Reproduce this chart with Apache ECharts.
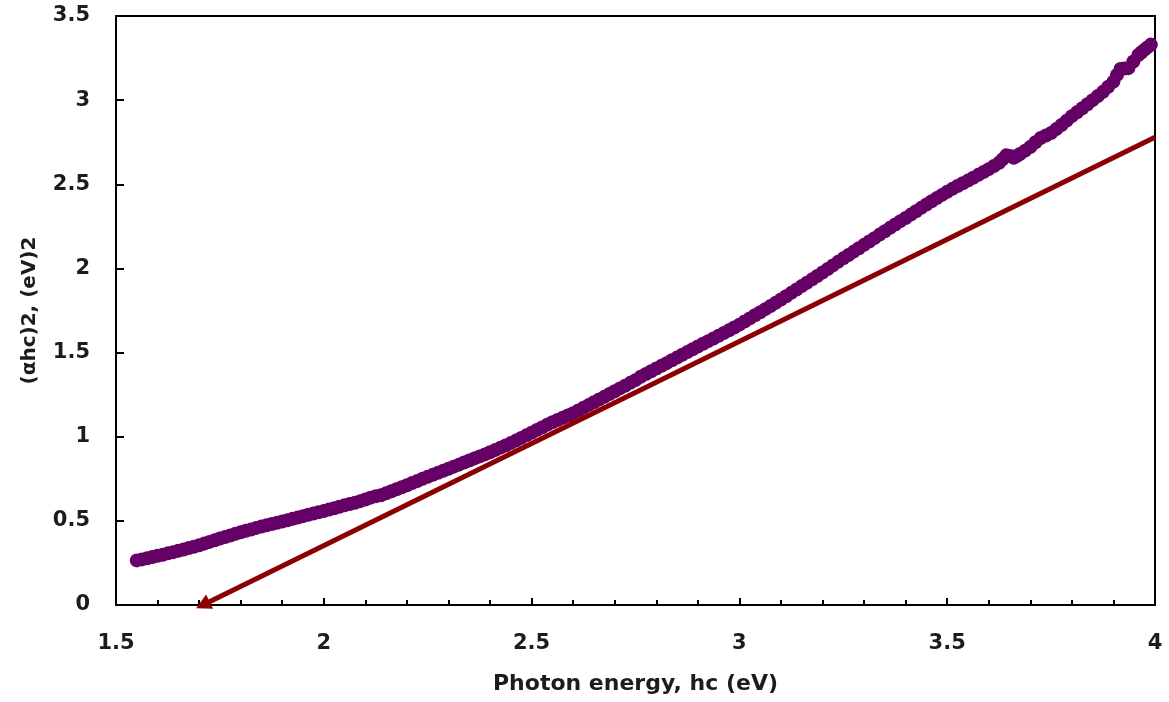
<!DOCTYPE html>
<html>
<head>
<meta charset="utf-8">
<script src="https://cdn.jsdelivr.net/npm/echarts@6/dist/echarts.min.js"></script>
<style>
html,body{margin:0;padding:0;background:#fff;}
#chart{width:1169px;height:702px;}
</style>
</head>
<body>
<div id="chart"></div>
<script>
// Photon energy (eV)
var energy = [
  1.5500,1.5625,1.5750,1.5875,1.6000,1.6125,1.6250,1.6375,1.6500,1.6625,1.6750,1.6875,1.7000,1.7125,1.7250,1.7375,
  1.7500,1.7625,1.7750,1.7875,1.8000,1.8125,1.8250,1.8375,1.8500,1.8625,1.8750,1.8875,1.9000,1.9125,1.9250,1.9375,
  1.9500,1.9625,1.9750,1.9875,2.0000,2.0125,2.0250,2.0375,2.0500,2.0625,2.0750,2.0875,2.1000,2.1125,2.1250,2.1375,
  2.1500,2.1625,2.1750,2.1875,2.2000,2.2125,2.2250,2.2375,2.2500,2.2625,2.2750,2.2875,2.3000,2.3125,2.3250,2.3375,
  2.3500,2.3625,2.3750,2.3875,2.4000,2.4125,2.4250,2.4375,2.4500,2.4625,2.4750,2.4875,2.5000,2.5125,2.5250,2.5375,
  2.5500,2.5625,2.5750,2.5875,2.6000,2.6125,2.6250,2.6375,2.6500,2.6625,2.6750,2.6875,2.7000,2.7125,2.7250,2.7375,
  2.7500,2.7625,2.7750,2.7875,2.8000,2.8125,2.8250,2.8375,2.8500,2.8625,2.8750,2.8875,2.9000,2.9125,2.9250,2.9375,
  2.9500,2.9625,2.9750,2.9875,3.0000,3.0125,3.0250,3.0375,3.0500,3.0625,3.0750,3.0875,3.1000,3.1125,3.1250,3.1375,
  3.1500,3.1625,3.1750,3.1875,3.2000,3.2125,3.2250,3.2375,3.2500,3.2625,3.2750,3.2875,3.3000,3.3125,3.3250,3.3375,
  3.3500,3.3625,3.3750,3.3875,3.4000,3.4125,3.4250,3.4375,3.4500,3.4625,3.4750,3.4875,3.5000,3.5125,3.5250,3.5375,
  3.5500,3.5625,3.5750,3.5875,3.6000,3.6125,3.6250,3.6330,3.6420,3.6510,3.6600,3.6675,3.6750,3.6875,3.7000,3.7125,
  3.7250,3.7375,3.7500,3.7625,3.7750,3.7875,3.8000,3.8125,3.8250,3.8375,3.8500,3.8625,3.8750,3.8875,3.9000,3.9085,
  3.9170,3.9265,3.9360,3.9480,3.9600,3.9675,3.9750,3.9825,3.9900];
// (αhc)^2 values, (eV)^2
var absorb = [
  0.265,0.271,0.278,0.285,0.292,0.299,0.307,0.314,0.322,0.330,0.338,0.346,0.355,0.365,0.375,0.385,
  0.395,0.404,0.413,0.423,0.432,0.441,0.449,0.458,0.466,0.474,0.481,0.489,0.496,0.504,0.512,0.520,
  0.528,0.536,0.543,0.551,0.558,0.567,0.575,0.584,0.592,0.600,0.608,0.617,0.627,0.638,0.646,0.652,
  0.664,0.676,0.688,0.700,0.712,0.725,0.737,0.750,0.762,0.774,0.786,0.798,0.810,0.822,0.834,0.847,
  0.859,0.871,0.883,0.895,0.908,0.921,0.935,0.948,0.962,0.977,0.992,1.008,1.024,1.040,1.055,1.071,
  1.086,1.099,1.113,1.126,1.140,1.156,1.172,1.188,1.205,1.221,1.237,1.254,1.270,1.287,1.303,1.320,
  1.336,1.356,1.373,1.389,1.405,1.421,1.437,1.454,1.470,1.487,1.503,1.520,1.536,1.552,1.568,1.584,
  1.600,1.616,1.632,1.649,1.666,1.685,1.703,1.722,1.740,1.758,1.777,1.796,1.815,1.835,1.855,1.875,
  1.895,1.915,1.935,1.955,1.976,1.997,2.018,2.039,2.060,2.080,2.100,2.120,2.140,2.160,2.180,2.201,
  2.221,2.241,2.261,2.281,2.300,2.320,2.340,2.360,2.380,2.399,2.418,2.437,2.456,2.473,2.490,2.506,
  2.522,2.539,2.556,2.573,2.590,2.609,2.628,2.648,2.672,2.668,2.658,2.668,2.680,2.700,2.722,2.750,
  2.775,2.790,2.805,2.828,2.852,2.878,2.905,2.928,2.952,2.976,3.000,3.025,3.050,3.080,3.110,3.150,
  3.185,3.188,3.190,3.230,3.268,3.285,3.300,3.315,3.330];
// Tangent (fit) line end points: from upper end to x-intercept
var fitStart = [4.0, 2.78];
var fitEnd = [1.709, 0];
var xTicks = {min:1.5, max:4, step:0.5};
var yTicks = {min:0, max:3.5, step:0.5};

var pts = energy.map(function(x,i){return [x, absorb[i]];});
var txt = '#1c1c1c';
var font = 'DejaVu Sans';

var chart = echarts.init(document.getElementById('chart'), null, {renderer:'canvas'});
chart.setOption({
  animation:false,
  backgroundColor:'#ffffff',
  grid:{left:116, right:14, top:16, bottom:97, show:true, borderColor:'#000', borderWidth:2, backgroundColor:'transparent', containLabel:false},
  xAxis:{
    type:'value', min:xTicks.min, max:xTicks.max, interval:xTicks.step,
    name:'Photon energy, hc (eV)', nameLocation:'middle', nameGap:68,
    nameTextStyle:{fontFamily:font, fontWeight:'bold', fontSize:22, color:txt},
    axisLine:{show:true, lineStyle:{color:'#000', width:2}},
    axisTick:{show:true, inside:true, length:7, lineStyle:{color:'#000', width:2}},
    minorTick:{show:true, splitNumber:5, length:5, lineStyle:{color:'#000', width:2}},
    splitLine:{show:false}, minorSplitLine:{show:false},
    axisLabel:{margin:28, fontFamily:font, fontWeight:'bold', fontSize:21, color:txt, showMinLabel:true, showMaxLabel:true}
  },
  yAxis:{
    type:'value', min:yTicks.min, max:yTicks.max, interval:yTicks.step,
    name:'(αhc)2, (eV)2', nameLocation:'middle', nameGap:76, nameRotate:90,
    nameTextStyle:{fontFamily:font, fontWeight:'bold', fontSize:20, color:txt},
    axisLine:{show:true, lineStyle:{color:'#000', width:2}},
    axisTick:{show:true, inside:true, length:8, lineStyle:{color:'#000', width:2}},
    splitLine:{show:false},
    axisLabel:{margin:26, fontFamily:font, fontWeight:'bold', fontSize:21, color:txt, showMinLabel:true, showMaxLabel:true}
  },
  series:[
    {
      type:'scatter', data:pts, symbol:'circle', symbolSize:14,
      itemStyle:{color:'#650066', opacity:1},
      silent:true, z:3
    },
    {
      type:'line', data:[], silent:true, z:4,
      markLine:{
        silent:true, animation:false,
        symbol:['none','triangle'], symbolSize:[16,15],
        label:{show:false},
        itemStyle:{color:'#8B0000'},
        lineStyle:{color:'#8B0000', width:5, type:'solid'},
        emphasis:{disabled:true},
        data:[[{coord:fitStart},{coord:fitEnd}]]
      }
    }
  ]
});
</script>
</body>
</html>
